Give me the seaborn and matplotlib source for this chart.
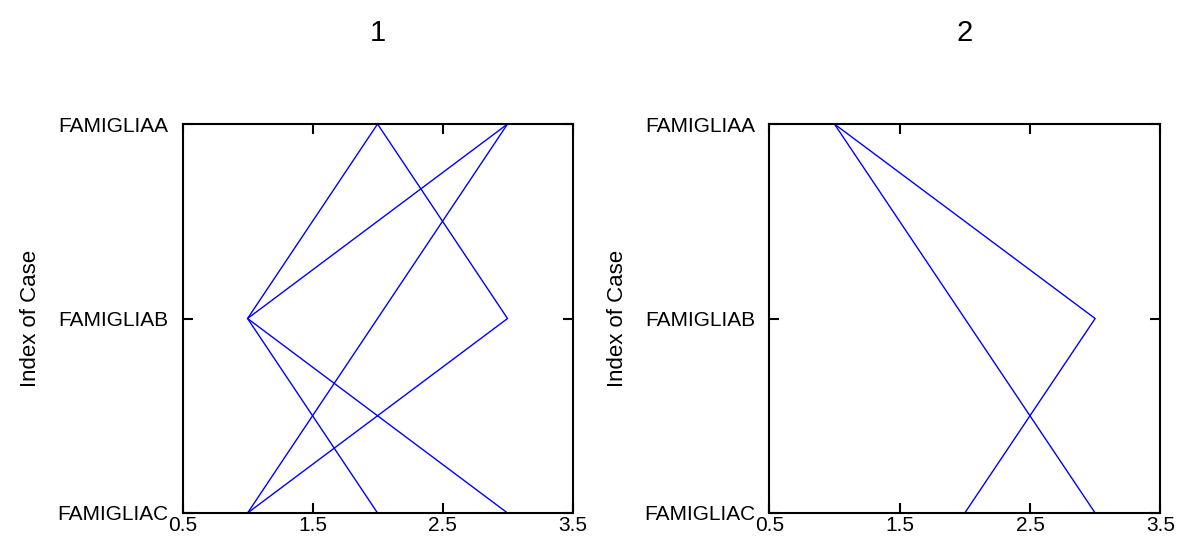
import matplotlib
matplotlib.use("Agg")
import matplotlib.pyplot as plt
import seaborn as sns
import pandas as pd

# categorie sull'asse y (dall'alto verso il basso)
famiglie = ["FAMIGLIAA", "FAMIGLIAB", "FAMIGLIAC"]

# percorsi per ogni caso: valore x su FAMIGLIAA, FAMIGLIAB, FAMIGLIAC
casi_1 = [
    [2, 1, 3],
    [2, 3, 1],
    [3, 1, 2],
    [3, 2, 1],
]
casi_2 = [
    [1, 3, 2],
    [1, 2, 3],
]
titoli = ["1", "2"]
x_ticks = [0.5, 1.5, 2.5, 3.5]


def to_long(casi):
    righe = []
    for i, caso in enumerate(casi):
        for fam, v in zip(famiglie, caso):
            righe.append({"caso": i, "famiglia": fam, "valore": v})
    return pd.DataFrame(righe)


sns.set_style("white")
plt.rcParams["font.family"] = ["Liberation Sans", "DejaVu Sans"]
plt.rcParams["text.color"] = "black"
plt.rcParams["axes.labelcolor"] = "black"
plt.rcParams["xtick.color"] = "black"
plt.rcParams["ytick.color"] = "black"

fig = plt.figure(figsize=(11.78, 5.44), dpi=100)
posizioni = [[0.155, 0.057, 0.331, 0.715], [0.653, 0.057, 0.332, 0.715]]

for pos, casi, titolo in zip(posizioni, [casi_1, casi_2], titoli):
    ax = fig.add_axes(pos)
    df = to_long(casi)
    sns.lineplot(
        data=df, x="valore", y="famiglia", units="caso", estimator=None,
        sort=False, color="#0000ff", linewidth=1.0, ax=ax, legend=False,
    )
    ax.set_xlim(0.5, 3.5)
    ax.set_ylim(2, 0)
    ax.set_xticks(x_ticks)
    ax.set_xticklabels([str(t) for t in x_ticks], fontsize=15)
    ax.set_yticks(range(len(famiglie)))
    ax.set_yticklabels(famiglie, fontsize=15)
    ax.tick_params(direction="in", length=7, width=1.5, top=True, right=True,
                   bottom=True, left=True)
    ax.tick_params(axis="y", pad=10)
    ax.tick_params(axis="x", pad=2)
    for sp in ax.spines.values():
        sp.set_visible(True)
        sp.set_color("black")
        sp.set_linewidth(1.5)
    ax.set_xlabel("")
    ax.set_ylabel("Index of Case", fontsize=16, labelpad=12)
    ax.set_title(titolo, fontsize=21, pad=60)

plt.savefig("out.png", dpi=100)
plt.close()
